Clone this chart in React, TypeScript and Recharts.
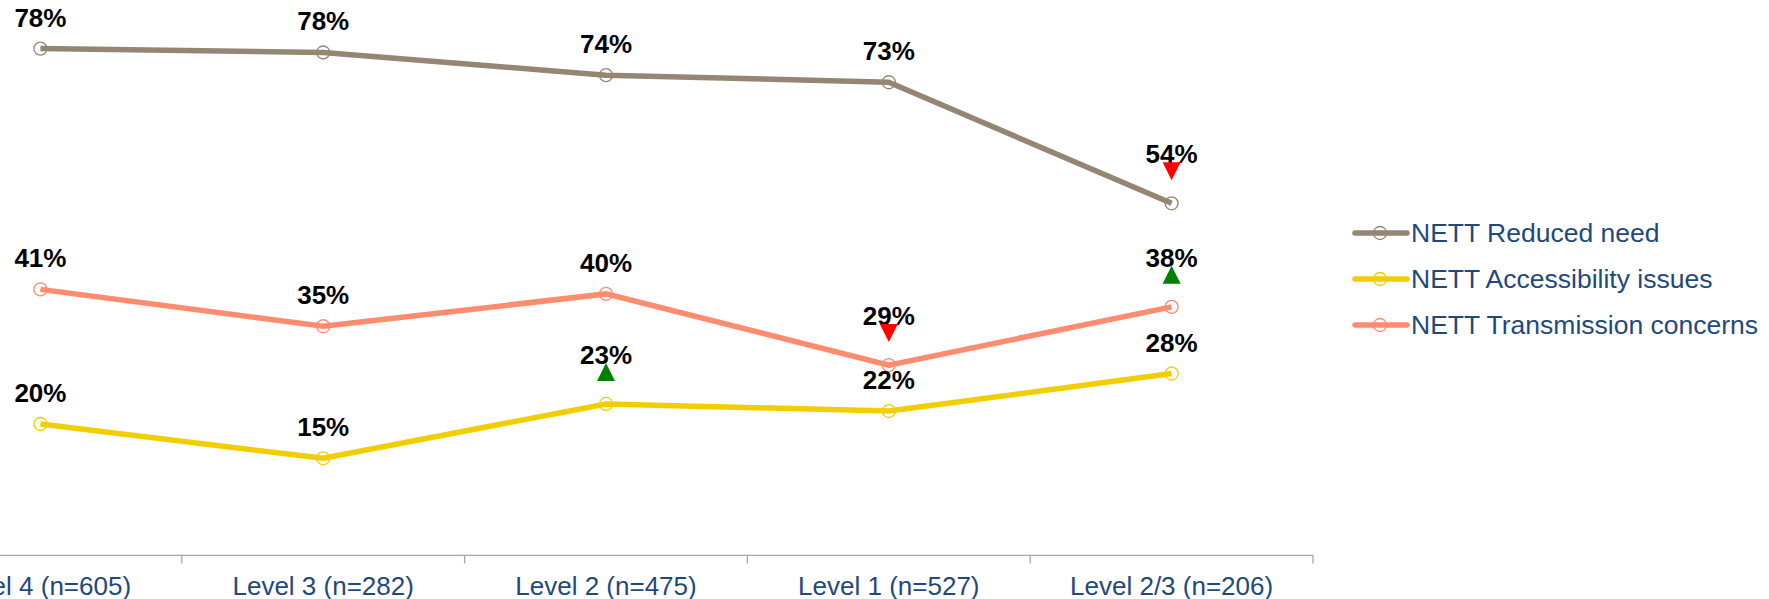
import React from 'react';
import { LineChart, Line, XAxis, YAxis, LabelList, Legend } from 'recharts';

// Survey groups along the x axis
const categories = [
  'Level 4 (n=605)',
  'Level 3 (n=282)',
  'Level 2 (n=475)',
  'Level 1 (n=527)',
  'Level 2/3 (n=206)',
];

// Share of respondents (%) per group
const reducedNeed = [78.3, 77.7, 74.2, 73.1, 54.4];
const accessibilityIssues = [20.3, 15.0, 23.4, 22.3, 28.1];
const transmissionConcerns = [41.1, 35.4, 40.4, 29.4, 38.4];

// Significant differences: 'up' = significantly higher, 'down' = significantly lower
const reducedNeedSig = ['', '', '', '', 'down'];
const accessibilitySig = ['', '', 'up', '', ''];
const transmissionSig = ['', '', '', 'down', 'up'];

const seriesNames = ['NETT Reduced need', 'NETT Accessibility issues', 'NETT Transmission concerns'];
const seriesKeys = ['reduced', 'access', 'trans'];
const seriesColors = ['#948672', '#F2CE00', '#FF8C6E'];

const data = categories.map((category, i) => ({
  category,
  reduced: reducedNeed[i],
  access: accessibilityIssues[i],
  trans: transmissionConcerns[i],
}));

const FONT = '"Liberation Sans", Arial, Helvetica, sans-serif';
const TEXT_BLUE = '#1F497D';

const CHART_W = 1870;
const CHART_H = 599;
const SHIFT_X = 101;
const PLOT_W = 1414;
const HALF_BAND = PLOT_W / (2 * categories.length);

const makeLabel = (sig: string[]) => (props: any) => {
  const { x, y, value, index } = props;
  if (x == null || y == null || value == null) return null;
  const s = sig[index];
  const baseline = s ? y - 40 : y - 22;
  return (
    <g>
      <text
        x={x}
        y={baseline}
        textAnchor="middle"
        fontSize={26}
        fontWeight="bold"
        fill="#000000"
        fontFamily={FONT}
      >
        {`${Math.round(Number(value))}%`}
      </text>
      {s === 'up' && (
        <polygon points={`${x - 9},${y - 23} ${x + 9},${y - 23} ${x},${y - 41}`} fill="#008000" />
      )}
      {s === 'down' && (
        <polygon points={`${x - 9},${y - 41} ${x + 9},${y - 41} ${x},${y - 23}`} fill="#FF0000" />
      )}
    </g>
  );
};

const CategoryTick = (props: any) => {
  const { x, y, payload, index } = props;
  const last = index === categories.length - 1;
  return (
    <g>
      <line x1={x - HALF_BAND} y1={y} x2={x - HALF_BAND} y2={y + 8} stroke="#A6A6A6" strokeWidth={1.3} />
      {last && (
        <line x1={x + HALF_BAND} y1={y} x2={x + HALF_BAND} y2={y + 8} stroke="#A6A6A6" strokeWidth={1.3} />
      )}
      <text x={x} y={y + 40} textAnchor="middle" fontSize={26} fill={TEXT_BLUE} fontFamily={FONT}>
        {payload.value}
      </text>
    </g>
  );
};

const LegendBox = () => (
  <div style={{ fontFamily: FONT }}>
    {seriesNames.map((name, i) => (
      <div key={name} style={{ display: 'flex', alignItems: 'center', height: 46 }}>
        <svg width={58} height={20} style={{ display: 'block' }}>
          <line x1={3} y1={10} x2={55} y2={10} stroke={seriesColors[i]} strokeWidth={5.5} strokeLinecap="round" />
          <circle cx={28} cy={10} r={6.5} fill="none" stroke={seriesColors[i]} strokeWidth={1.3} />
        </svg>
        <span style={{ fontSize: 26.5, color: TEXT_BLUE, marginLeft: 1, whiteSpace: 'nowrap', lineHeight: '26px' }}>
          {name}
        </span>
      </div>
    ))}
  </div>
);

const sigByKey: Record<string, string[]> = {
  reduced: reducedNeedSig,
  access: accessibilitySig,
  trans: transmissionSig,
};

export default function App() {
  return (
    <div
      style={{
        position: 'absolute',
        left: 0,
        top: 0,
        width: 1769,
        height: 599,
        overflow: 'hidden',
        background: '#ffffff',
      }}
    >
      <div style={{ position: 'absolute', left: -SHIFT_X, top: 0 }}>
        <LineChart
          width={CHART_W}
          height={CHART_H}
          data={data}
          margin={{ top: 37.6, right: CHART_W - PLOT_W, bottom: 0, left: 0 }}
        >
          <YAxis hide domain={[0, 80]} />
          <XAxis
            dataKey="category"
            height={43.6}
            interval={0}
            padding={{ left: HALF_BAND, right: HALF_BAND }}
            tickLine={false}
            tickSize={0}
            tickMargin={0}
            axisLine={{ stroke: '#A6A6A6', strokeWidth: 1.3 }}
            tick={<CategoryTick />}
          />
          <Legend
            layout="horizontal"
            verticalAlign="middle"
            align="center"
            wrapperStyle={{ position: 'absolute', left: 1453, top: 210, width: 420, height: 140 }}
            content={<LegendBox />}
          />
          {seriesKeys.map((key, i) => (
            <Line
              key={key}
              type="linear"
              dataKey={key}
              name={seriesNames[i]}
              stroke={seriesColors[i]}
              strokeWidth={5.5}
              dot={{ r: 6.5, fill: 'none', stroke: seriesColors[i], strokeWidth: 1.3 }}
              activeDot={false}
              isAnimationActive={false}
            >
              <LabelList dataKey={key} content={makeLabel(sigByKey[key])} />
            </Line>
          ))}
        </LineChart>
      </div>
    </div>
  );
}
